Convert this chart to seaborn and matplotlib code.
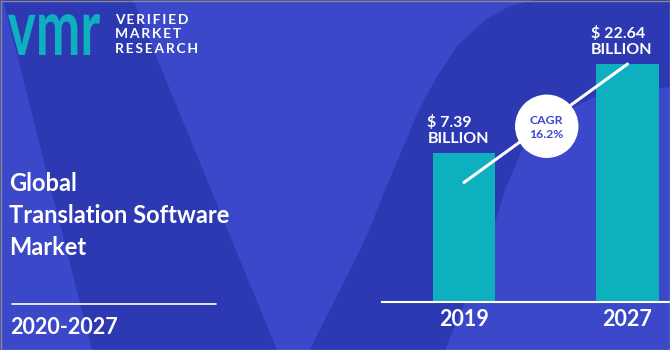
import numpy as np
import pandas as pd
import matplotlib
matplotlib.use("Agg")
import matplotlib.pyplot as plt
import seaborn as sns
from matplotlib.patches import Polygon, Circle, PathPatch, Rectangle
from matplotlib.textpath import TextPath
from matplotlib.font_manager import FontProperties
from matplotlib.transforms import Affine2D

# ---------------- data ----------------
years = ["2019", "2027"]
market_size = [7.39, 22.64]
value_labels = ["$ 7.39\nBILLION", "$ 22.64\nBILLION"]
cagr_label = "CAGR\n16.2%"
title_lines = ["Global", "Translation Software", "Market"]
period = "2020-2027"
brand_lines = ["VERIFIED", "MARKET", "RESEARCH"]
logo_text = "vmr"

# ---------------- style ----------------
BG = "#3B48CA"
DARK = "#2C39B3"
TEAL = "#0EAFBE"
WHITE = "white"

sns.set_style("white")
plt.rcParams["font.family"] = ["Lato", "DejaVu Sans"]

W, H = 670, 350
fig = plt.figure(figsize=(6.7, 3.5), dpi=100)

# background axes in pixel coordinates
bg = fig.add_axes([0, 0, 1, 1])
bg.set_xlim(0, W)
bg.set_ylim(H, 0)
bg.axis("off")
bg.add_patch(Rectangle((0, 0), W, H, color=BG, zorder=0))
band = [(3, 0), (133, 0), (277, 350), (92, 350)]
bg.add_patch(Polygon(band, closed=True, color=DARK, zorder=1, lw=0))
arc = [(310, 350), (322, 325), (335, 300), (352, 266), (368, 233), (385, 190),
       (402, 150), (418, 112), (435, 80), (458, 45), (485, 20), (510, 6), (535, 0),
       (670, 0), (670, 87), (630, 90), (595, 97), (568, 110), (542, 128), (522, 150),
       (505, 190), (492, 233), (470, 290), (445, 350)]
bg.add_patch(Polygon(arc, closed=True, color=DARK, zorder=1, lw=0))

# logo "vmr" glyph scaled into its box
fp = FontProperties(family="Lato", weight="bold")
tp = TextPath((0, 0), logo_text, size=50, prop=fp)
ext = tp.get_extents()
lx0, ly0, lx1, ly1 = 8, 14, 100, 55
sx = (lx1 - lx0) / ext.width
sy = (ly1 - ly0) / ext.height
tr = Affine2D().translate(-ext.x0, -ext.y1).scale(sx, -sy).translate(lx0, ly0)
bg.add_patch(PathPatch(tr.transform_path(tp), color=TEAL, lw=0, zorder=2))

thin = "\u2009"
for i, line in enumerate(brand_lines):
    bg.text(115, 20 + i * 14.3, thin.join(line), color=WHITE, fontsize=10,
            fontweight="bold", ha="left", va="center", zorder=3)

# title block
for i, line in enumerate(title_lines):
    bg.text(9, 183.5 + i * 32, line, color=WHITE, fontsize=17, fontweight="bold",
            ha="left", va="center", zorder=3)
bg.plot([12, 216], [304, 304], color=WHITE, lw=1.2, zorder=3)
bg.text(10, 327, period, color=WHITE, fontsize=15.5, fontweight="bold",
        ha="left", va="center", zorder=3)

# ---------------- bars ----------------
ax = fig.add_axes([382 / W, (H - 302) / H, (W - 382) / W, 302 / H], zorder=2)
ax.patch.set_alpha(0)
df = pd.DataFrame({"year": years, "value": market_size})
sns.barplot(data=df, x="year", y="value", color=TEAL, saturation=1, width=0.38,
            errorbar=None, linewidth=0, ax=ax)
ax.set_yscale("log")
ax.set_ylim(1.1325, 50.7)
ax.set_xlim(-0.5015, 1.26)
for s in ["left", "right", "top"]:
    ax.spines[s].set_visible(False)
ax.spines["bottom"].set_color(WHITE)
ax.spines["bottom"].set_linewidth(1.5)
ax.tick_params(axis="y", which="both", left=False, labelleft=False)
ax.tick_params(axis="x", length=0, pad=5, labelcolor=WHITE, labelsize=15.5)
for lab in ax.get_xticklabels():
    lab.set_fontweight("bold")
ax.set_xlabel("")
ax.set_ylabel("")

for i, (v, lab) in enumerate(zip(market_size, value_labels)):
    ax.annotate(lab, xy=(i - 0.19, v), xytext=(-4, 5), textcoords="offset points",
                ha="left", va="bottom", color=WHITE, fontsize=11.5, fontweight="bold",
                linespacing=1.15, annotation_clip=False)

# ---------------- overlay: CAGR line and bubble ----------------
top = fig.add_axes([0, 0, 1, 1], zorder=5)
top.set_xlim(0, W)
top.set_ylim(H, 0)
top.axis("off")
top.patch.set_alpha(0)
inv = top.transData.inverted()
p0 = inv.transform(ax.transData.transform((0, market_size[0] * 0.69)))
p1 = inv.transform(ax.transData.transform((1, market_size[1])))
top.plot([p0[0], p1[0]], [p0[1], p1[1]], color=WHITE, lw=2.2, solid_capstyle="round")
mid = (p0 + p1) / 2 + np.array([1, 3])
top.add_patch(Circle(mid, 31, color=WHITE, zorder=6))
top.text(mid[0], mid[1] + 1, cagr_label, ha="center", va="center", color=BG,
         fontsize=8.8, fontweight="bold", linespacing=1.35, zorder=7)
top.add_patch(Rectangle((0.5, 0.5), W - 1, H - 1, fill=False, ec="#8a8a8a", lw=1, zorder=8))

fig.savefig("out.png", dpi=100)
